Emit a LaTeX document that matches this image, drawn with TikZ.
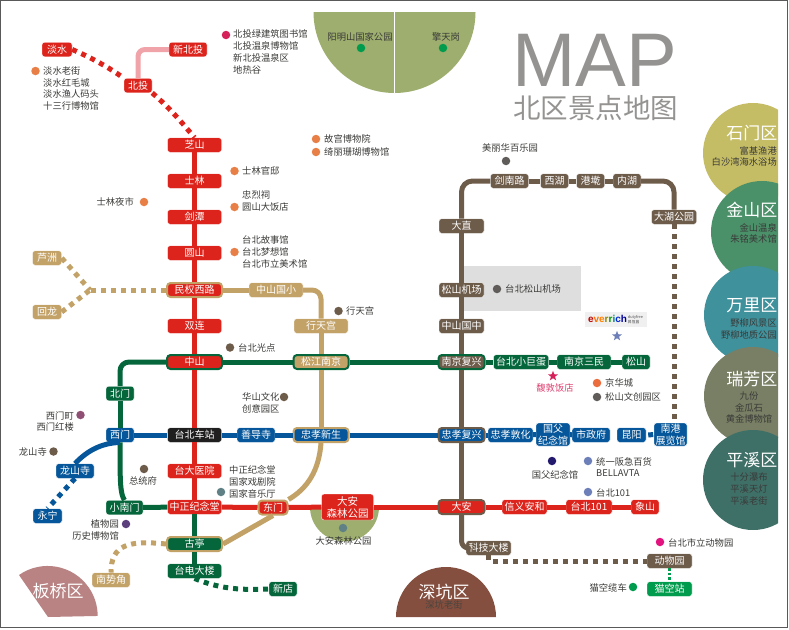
\documentclass[tikz,border=0pt]{standalone}
\usepackage{xcolor}
\usepackage{fontspec}
\setmainfont{Noto Sans CJK SC}
\newfontfamily\arialfont{Liberation Sans}
\newfontfamily\logofont{Noto Sans CJK TC}
\usetikzlibrary{shapes.geometric}
\definecolor{linered}{HTML}{DC241C}
\definecolor{linepink}{HTML}{F0A3A8}
\definecolor{linegold}{HTML}{C3A268}
\definecolor{linegreen}{HTML}{05663B}
\definecolor{lineblue}{HTML}{05569A}
\definecolor{linebrown}{HTML}{6E5C4B}
\definecolor{linemint}{HTML}{009B4C}
\definecolor{spotorange}{HTML}{E77F47}
\definecolor{spotbrown}{HTML}{6E5C4B}
\definecolor{spotgrey}{HTML}{5F5C5A}
\definecolor{spotblue}{HTML}{6D7FB8}
\definecolor{spotcrimson}{HTML}{D6225A}
\definecolor{spotteal}{HTML}{5F8186}
\definecolor{spotplum}{HTML}{8F4F74}
\definecolor{spotviolet}{HTML}{5B3E7C}
\definecolor{spotnavy}{HTML}{231A6E}
\definecolor{spotmagenta}{HTML}{E2137F}
\definecolor{parkgreen}{HTML}{9DAE6E}
\definecolor{titlegrey}{HTML}{949391}
\definecolor{labeltext}{HTML}{3A3A38}
\tikzset{
	stationbox/.style = {rectangle, rounded corners=2.5pt, draw=white, line width=0.4pt, inner sep=0pt, minimum height=14.5pt, align=center, text=white, font=\fontsize{10}{11.5}\selectfont},
	stationred/.style = {stationbox, fill=linered},
	stationgold/.style = {stationbox, fill=linegold},
	stationgreen/.style = {stationbox, fill=linegreen},
	stationblue/.style = {stationbox, fill=lineblue},
	stationbrown/.style = {stationbox, fill=linebrown},
	transfer/.style = {line width=2pt, rounded corners=3.5pt, minimum height=14pt},
	metroline/.style = {line width=5pt, line join=round},
	dashline/.style = {line width=5pt, dash pattern=on 5pt off 5pt},
	spot/.style = {circle, inner sep=0pt, minimum size=8.5pt},
	spotlabel/.style = {inner sep=0pt, text=labeltext, font=\fontsize{9.3}{11.7}\selectfont},
	districtname/.style = {inner sep=0pt, text=white, anchor=east, font=\fontsize{17}{19}\selectfont},
	districtspot/.style = {inner sep=0pt, text=labeltext, align=right, font=\fontsize{9.3}{11.7}\selectfont}
}

\begin{document}
\begin{tikzpicture}[x=1pt, y=-1pt]
	\useasboundingbox (0,0) rectangle (789,629);
	\draw[line width=1pt, color=black!65] (0.5,0.5) rectangle (787.7,627.7);

	\fill[parkgreen] (313.5,12) arc[start angle=180, end angle=0, radius=81] -- cycle;
	\draw[white, line width=0.7pt] (394.5,12) -- (394.5,93);
	\fill[parkgreen] (310,507) arc[start angle=180, end angle=0, radius=34.5] -- cycle;
	\fill[black!13] (463,266) rectangle (581,311);

	\begin{scope}
		\clip (690,90) rectangle (778,540);
		\fill[color={rgb,255:red,197;green,189;blue,101}] (753,153) circle (50);
		\fill[color={rgb,255:red,74;green,144;blue,105}] (762,232) circle (51);
		\fill[color={rgb,255:red,63;green,145;blue,156}] (753,315) circle (49);
		\fill[color={rgb,255:red,120;green,127;blue,100}] (753,396) circle (49);
		\fill[color={rgb,255:red,63;green,112;blue,104}] (753,480) circle (50);
	\end{scope}
	\fill[color={rgb,255:red,185;green,131;blue,132}] (48,617) -- (19,575) arc[start angle=235, end angle=360, radius=50] -- cycle;
	\fill[color={rgb,255:red,133;green,79;blue,63}] (396,617) arc[start angle=180, end angle=360, radius=50] -- cycle;

	\node[inner sep=0pt, text=titlegrey, font=\arialfont\fontsize{76}{76}\selectfont] (mapword) at (595,60) {MAP};
	\node[inner sep=0pt, text height=22pt, text depth=2pt, text=titlegrey, font=\fontsize{27.5}{30}\selectfont] (maptitle) at (595.5,108) {北区景点地图};

	\node[stationred, minimum width=30pt] (danshui) at (57,49.5) {淡水};
	\node[stationred, minimum width=38pt] (xinbeitou) at (188,49.5) {新北投};
	\node[stationred, minimum width=28pt] (beitou) at (138,85.5) {北投};
	\node[stationred, minimum width=54pt] (zhishan) at (194.5,145) {芝山};
	\node[stationred, minimum width=54pt] (shilin) at (194.5,181) {士林};
	\node[stationred, minimum width=54pt] (jiantan) at (194.5,217) {剑潭};
	\node[stationred, minimum width=54pt] (yuanshan) at (194.5,253) {圆山};
	\node[stationred, transfer, draw=linegold, minimum width=55pt] (minquan) at (194.5,290) {民权西路};
	\node[stationred, minimum width=54pt] (shuanglian) at (194.5,326) {双连};
	\node[stationred, transfer, draw=linegreen, minimum width=55pt] (zhongshan) at (194.5,362) {中山};
	\node[stationbox, fill=black!88, minimum width=54pt] (taibeizhan) at (194.5,435) {台北车站};
	\node[stationred, minimum width=54pt] (taida) at (194.5,471) {台大医院};
	\node[stationred, minimum width=54pt] (zhongzheng) at (194.5,507) {中正纪念堂};
	\node[stationgreen, transfer, draw=linegold, minimum width=55pt] (guting) at (194.5,544) {古亭};
	\node[stationgreen, minimum width=54pt] (taidian) at (194.5,571) {台电大楼};
	\node[stationgreen, minimum width=28pt] (xindian) at (283,589) {新店};

	\node[stationgold, minimum width=29pt] (luzhou) at (47,258) {芦洲};
	\node[stationgold, minimum width=29pt] (huilong) at (47,312) {回龙};
	\node[stationgold, minimum width=38pt] (nanshijiao) at (111,580) {南势角};
	\node[stationgold, minimum width=54pt] (zhongshanxiao) at (276,290) {中山国小};
	\node[stationgold, minimum width=54pt] (xingtian) at (321,326) {行天宫};
	\node[stationgold, transfer, draw=linegreen, minimum width=55pt] (songjiang) at (321,362) {松江南京};
	\node[stationblue, transfer, draw=linegold, minimum width=55pt] (xiaoxinsheng) at (321,435) {忠孝新生};
	\node[stationred, transfer, draw=linegold, minimum width=29pt] (dongmen) at (273,507.5) {东门};
	\node[stationred, minimum width=52pt, minimum height=26pt, font=\fontsize{10.5}{12}\selectfont] (daanpark) at (347.5,507) {大安\\森林公园};

	\node[stationgreen, minimum width=28pt] (beimen) at (120,393.5) {北门};
	\node[stationblue, minimum width=28pt] (ximen) at (120,435) {西门};
	\node[stationgreen, minimum width=37pt] (xiaonanmen) at (124.5,507.5) {小南门};
	\node[stationblue, minimum width=38pt] (longshan) at (75,471) {龙山寺};
	\node[stationblue, minimum width=29pt] (yongning) at (47.5,516) {永宁};
	\node[stationblue, minimum width=38pt] (shandao) at (256,435) {善导寺};

	\node[stationbrown, minimum width=38pt] (jiannan) at (509.5,181) {剑南路};
	\node[stationbrown, minimum width=28pt] (xihu) at (554.5,181) {西湖};
	\node[stationbrown, minimum width=28pt] (gangqian) at (590.5,181) {港墘};
	\node[stationbrown, minimum width=28pt] (neihu) at (627,181) {内湖};
	\node[stationbrown, minimum width=45pt] (dahu) at (674,217) {大湖公园};
	\node[stationbrown, minimum width=45pt] (dazhi) at (461.5,226) {大直};
	\node[stationbrown, minimum width=45pt] (songshanjc) at (461.5,290) {松山机场};
	\node[stationbrown, minimum width=45pt] (zhongshanzh) at (461.5,326) {中山国中};
	\node[stationbrown, transfer, draw=linegreen, minimum width=46pt] (nanjingfx) at (461.5,362) {南京复兴};
	\node[stationblue, transfer, draw=linebrown, minimum width=46pt] (xiaofx) at (461.5,435) {忠孝复兴};
	\node[stationred, transfer, draw=linebrown, minimum width=46pt] (daan) at (461.5,507) {大安};
	\node[stationbrown, minimum width=45pt] (keji) at (488.5,548) {科技大楼};
	\node[stationbrown, minimum width=45pt] (dongwuyuan) at (669.5,561) {动物园};
	\node[stationbox, fill=linemint, minimum width=45pt] (maokong) at (669.5,589) {猫空站};

	\node[stationgreen, minimum width=55pt] (xiaojudan) at (521,362) {台北小巨蛋};
	\node[stationgreen, minimum width=54pt] (nanjingsm) at (584,362) {南京三民};
	\node[stationgreen, minimum width=28pt] (songshan) at (636,362) {松山};
	\node[stationblue, minimum width=45pt] (xiaodh) at (510.5,435) {忠孝敦化};
	\node[stationblue, minimum width=34pt, minimum height=23pt] (guofu) at (553,434.5) {国父\\纪念馆};
	\node[stationblue, minimum width=38pt] (shizheng) at (591,435) {市政府};
	\node[stationblue, minimum width=29pt] (kunyang) at (631.5,435) {昆阳};
	\node[stationblue, minimum width=33pt, minimum height=23pt] (nangang) at (670.5,434.5) {南港\\展览馆};
	\node[stationred, minimum width=45pt] (xinyi) at (524.5,507) {信义安和};
	\node[stationred, minimum width=46pt] (taibei101) at (589,507) {台北101};
	\node[stationred, minimum width=28pt] (xiangshan) at (645,507) {象山};

	\coordinate (luzhoujoin) at (90,290);

	\draw[metroline, linepink, rounded corners=7pt] (xinbeitou.west) -| (beitou.north);
	\draw[dashline, linered] (danshui.east) .. controls (92,58) and (108,67) .. (beitou.north west);
	\draw[dashline, linered] (beitou.south east) .. controls (170,108) and (183,124) .. (zhishan.north);
	\draw[metroline, linered] (zhishan) -- (shilin);
	\draw[metroline, linered] (shilin) -- (jiantan);
	\draw[metroline, linered] (jiantan) -- (yuanshan);
	\draw[metroline, linered] (yuanshan) -- (minquan);
	\draw[metroline, linered] (minquan) -- (shuanglian);
	\draw[metroline, linered] (shuanglian) -- (zhongshan);
	\draw[metroline, linered] (zhongshan) -- (taibeizhan);
	\draw[metroline, linered] (taibeizhan) -- (taida);
	\draw[metroline, linered] (taida) -- (zhongzheng);
	\draw[metroline, linered] (zhongzheng) -- (dongmen);
	\draw[metroline, linered] (dongmen) -- (daanpark);
	\draw[metroline, linered] (daanpark) -- (daan);
	\draw[metroline, linered] (daan) -- (xinyi);
	\draw[metroline, linered] (xinyi) -- (taibei101);
	\draw[metroline, linered] (taibei101) -- (xiangshan);

	\draw[metroline, linegreen, rounded corners=9pt] (zhongshan.west) -| (beimen.north);
	\draw[metroline, linegreen] (beimen) -- (ximen);
	\draw[metroline, linegreen] (ximen.south) .. controls (120,480) and (120,494) .. (xiaonanmen.north);
	\draw[metroline, linegreen] (xiaonanmen) -- (zhongzheng);
	\draw[metroline, linegreen] (zhongzheng) -- (guting);
	\draw[metroline, linegreen] (guting) -- (taidian);
	\draw[metroline, linegreen] (zhongshan) -- (songjiang);
	\draw[metroline, linegreen] (songjiang) -- (nanjingfx);
	\draw[metroline, linegreen] (nanjingfx) -- (xiaojudan);
	\draw[metroline, linegreen] (xiaojudan) -- (nanjingsm);
	\draw[metroline, linegreen] (nanjingsm) -- (songshan);
	\draw[dashline, linegreen] (taidian.south) .. controls (222,590) and (245,590) .. (xindian.west);

	\draw[metroline, lineblue] (ximen) -- (taibeizhan);
	\draw[metroline, lineblue] (taibeizhan) -- (shandao);
	\draw[metroline, lineblue] (shandao) -- (xiaoxinsheng);
	\draw[metroline, lineblue] (xiaoxinsheng) -- (xiaofx);
	\draw[metroline, lineblue] (xiaofx) -- (xiaodh);
	\draw[metroline, lineblue] (xiaodh) -- (guofu);
	\draw[metroline, lineblue] (guofu) -- (shizheng);
	\draw[dashline, lineblue] (kunyang.east) ++(2,0) -- (nangang.west);
	\draw[metroline, lineblue] (ximen.south) .. controls (100,443) and (86,452) .. (longshan.north);
	\draw[dashline, lineblue] (longshan.south) -- (yongning.north);

	\draw[metroline, linegold] (minquan) -- (zhongshanxiao);
	\draw[metroline, linegold, rounded corners=9pt] (zhongshanxiao.east) -| (xingtian.north);
	\draw[metroline, linegold] (xingtian) -- (songjiang);
	\draw[metroline, linegold] (songjiang) -- (xiaoxinsheng);
	\draw[metroline, linegold] (xiaoxinsheng.south) .. controls (319,470) and (308,488) .. (dongmen.north east);
	\draw[metroline, linegold] (dongmen.south) -- (guting.east);
	\draw[dashline, linegold] (minquan.west) -- (luzhoujoin);
	\draw[dashline, linegold] (luzhou.east) -- (luzhoujoin);
	\draw[dashline, linegold] (huilong.east) -- (luzhoujoin);
	\draw[dashline, linegold] (guting.west) .. controls (128,540) and (111,545) .. (nanshijiao.north);

	\draw[metroline, linebrown, rounded corners=11pt] (dazhi.north) |- (jiannan.west);
	\draw[metroline, linebrown] (jiannan) -- (xihu);
	\draw[metroline, linebrown] (xihu) -- (gangqian);
	\draw[metroline, linebrown] (gangqian) -- (neihu);
	\draw[metroline, linebrown, rounded corners=11pt] (neihu.east) -| (dahu.north);
	\draw[metroline, linebrown] (dazhi) -- (songshanjc);
	\draw[metroline, linebrown] (songshanjc) -- (zhongshanzh);
	\draw[metroline, linebrown] (zhongshanzh) -- (nanjingfx);
	\draw[metroline, linebrown] (nanjingfx) -- (xiaofx);
	\draw[metroline, linebrown] (xiaofx) -- (daan);
	\draw[metroline, linebrown, rounded corners=7pt] (daan.south) |- (keji.west);
	\draw[dashline, linebrown] (keji.south) |- (dongwuyuan.west);
	\draw[dashline, linebrown] (dahu.south) -- (dahu.south |- nangang.north);
	\draw[linemint, line width=2.5pt, dash pattern=on 2.5pt off 2pt] (dongwuyuan.south) -- (maokong.north);

	\node[spot, fill=spotcrimson] (lvjianzhu) at (226,35) {};
	\node[spotlabel, anchor=west, align=left] (lvjianzhulabel) at (233,52) {北投绿建筑图书馆\\北投温泉博物馆\\新北投温泉区\\地热谷};
	\node[spot, fill=spotorange] (laojie) at (35.5,71) {};
	\node[spotlabel, anchor=west, align=left] (laojielabel) at (43,88.5) {淡水老街\\淡水红毛城\\淡水渔人码头\\十三行博物馆};
	\node[spot, fill=spotorange] (gugong) at (316,139) {};
	\node[spotlabel, anchor=west] (gugonglabel) at (324,139) {故宫博物院};
	\node[spot, fill=spotorange] (qili) at (316,152) {};
	\node[spotlabel, anchor=west] (qililabel) at (324,152) {绮丽珊瑚博物馆};
	\node[spot, fill=spotorange] (guandi) at (234.5,171) {};
	\node[spotlabel, anchor=west] (guandilabel) at (242,171) {士林官邸};
	\node[spot, fill=spotorange] (yeshi) at (144,202) {};
	\node[spotlabel, anchor=east] (yeshilabel) at (134,202) {士林夜市};
	\node[spot, fill=spotorange] (fandian) at (234.5,207) {};
	\node[spotlabel, anchor=west, align=left] (fandianlabel) at (242,201) {忠烈祠\\圆山大饭店};
	\node[spot, fill=spotorange] (gushi) at (234.5,252) {};
	\node[spotlabel, anchor=west, align=left] (gushilabel) at (242,252) {台北故事馆\\台北梦想馆\\台北市立美术馆};
	\node[spot, fill=spotbrown] (xingtianspot) at (338.5,311) {};
	\node[spotlabel, anchor=west] (xingtianlabel) at (346,311) {行天宫};
	\node[spot, fill=spotbrown] (guangdian) at (230,347.5) {};
	\node[spotlabel, anchor=west] (guangdianlabel) at (238,348) {台北光点};
	\node[spot, fill=spotbrown] (huashan) at (284,397) {};
	\node[spotlabel, anchor=west, align=left] (huashanlabel) at (242,403) {华山文化\\创意园区};
	\node[spot, fill=spotplum] (ximending) at (80.5,415) {};
	\node[spotlabel, anchor=east, align=right] (ximendinglabel) at (74,421.5) {西门町\\西门红楼};
	\node[spot, fill=spotbrown] (longshanspot) at (53.5,451.5) {};
	\node[spotlabel, anchor=east] (longshanlabel) at (47,452) {龙山寺};
	\node[spot, fill=spotbrown] (zongtong) at (144,469) {};
	\node[spotlabel] (zongtonglabel) at (143,480.5) {总统府};
	\node[spot, fill=spotteal] (jiniantang) at (221,492) {};
	\node[spotlabel, anchor=west, align=left] (jiniantanglabel) at (229,482) {中正纪念堂\\国家戏剧院\\国家音乐厅};
	\node[spot, fill=spotviolet] (zhiwuyuan) at (126,524) {};
	\node[spotlabel, anchor=east, align=right] (zhiwuyuanlabel) at (119,530) {植物园\\历史博物馆};
	\node[spot, fill=spotteal] (daanspot) at (343,528) {};
	\node[spotlabel] (daanlabel) at (343.5,541) {大安森林公园};
	\node[spot, fill=linemint] (yangming) at (361,48) {};
	\node[spotlabel] (yangminglabel) at (360,37) {阳明山国家公园};
	\node[spot, fill=linemint] (qingtian) at (443,48) {};
	\node[spotlabel] (qingtianlabel) at (446,37) {擎天岗};

	\node[spot, fill=spotgrey] (meilihua) at (506,161) {};
	\node[spotlabel] (meilihualabel) at (510,148) {美丽华百乐园};
	\node[spot, fill=spotgrey] (jichang) at (497,289) {};
	\node[spotlabel, anchor=west] (jichanglabel) at (505,289) {台北松山机场};
	\node[fill=black!6, inner sep=0pt, minimum width=62pt, minimum height=15pt, font=\arialfont\bfseries\fontsize{10}{10}\selectfont] (everrich) at (616,319.5) {\textcolor{red!75!black}{e}\textcolor{orange!90!red}{v}\textcolor{orange}{e}\textcolor{olive}{r}\textcolor{green!60!black}{r}\textcolor{teal}{i}\textcolor{blue!70!teal}{c}\textcolor{blue!60!black}{h}\hspace{1pt}\parbox[c]{16pt}{\color{black!70}\logofont\fontsize{3.8}{4}\mdseries\selectfont dutyfree\\[-0.4pt]昇恆昌}};
	\node[star, star points=5, star point ratio=2.4, fill=spotblue, inner sep=0pt, minimum size=10.5pt] (everrichstar) at (617,336) {};
	\node[star, star points=5, star point ratio=2.4, fill=spotcrimson, inner sep=0pt, minimum size=10.5pt] (fudun) at (553,376) {};
	\node[spotlabel, text=spotcrimson!85!white] (fudunlabel) at (555,388) {馥敦饭店};
	\node[spot, fill=spotorange!85!red] (jinghua) at (597,383) {};
	\node[spotlabel, anchor=west] (jinghualabel) at (605,383) {京华城};
	\node[spot, fill=spotgrey] (wenchuang) at (597,397) {};
	\node[spotlabel, anchor=west] (wenchuanglabel) at (605,397) {松山文创园区};
	\node[spot, fill=spotnavy] (guofuspot) at (552,461) {};
	\node[spotlabel] (guofulabel) at (555,475) {国父纪念馆};
	\node[spot, fill=spotblue] (tongyi) at (588,461) {};
	\node[spotlabel, anchor=west, align=left] (tongyilabel) at (596,467) {统一阪急百货\\BELLAVTA};
	\node[spot, fill=spotblue] (yaoyao) at (588,492) {};
	\node[spotlabel, anchor=west] (yaoyaolabel) at (596,493) {台北101};
	\node[spot, fill=spotmagenta] (zoo) at (660,542) {};
	\node[spotlabel, anchor=west] (zoolabel) at (668,543) {台北市立动物园};
	\node[spot, fill=linemint] (lanche) at (633,587) {};
	\node[spotlabel, anchor=east] (lanchelabel) at (627,588) {猫空缆车};

	\node[districtname] (shimen) at (777.5,133) {石门区};
	\node[districtspot, anchor=east] (shimenlabel) at (777,156.5) {富基渔港\\白沙湾海水浴场};
	\node[districtname] (jinshan) at (777.5,210) {金山区};
	\node[districtspot, anchor=east] (jinshanlabel) at (777,233.5) {金山温泉\\朱铭美术馆};
	\node[districtname] (wanli) at (777.5,305) {万里区};
	\node[districtspot, anchor=east] (wanlilabel) at (777,329) {野柳风景区\\野柳地质公园};
	\node[districtname] (ruifang) at (777.5,379) {瑞芳区};
	\node[districtspot, align=center] (ruifanglabel) at (749,407.5) {九份\\金瓜石\\黄金博物馆};
	\node[districtname] (pingxi) at (777.5,460) {平溪区};
	\node[districtspot, align=center] (pingxilabel) at (749,489) {十分瀑布\\平溪天灯\\平溪老街};
	\node[districtname, anchor=center] (banqiao) at (58,591) {板桥区};
	\node[districtname, anchor=center] (shenkeng) at (444,592) {深坑区};
	\node[districtspot, align=center, text=labeltext!70!linebrown] (shenkenglabel) at (444,604.5) {深坑老街};
\end{tikzpicture}
\end{document}
